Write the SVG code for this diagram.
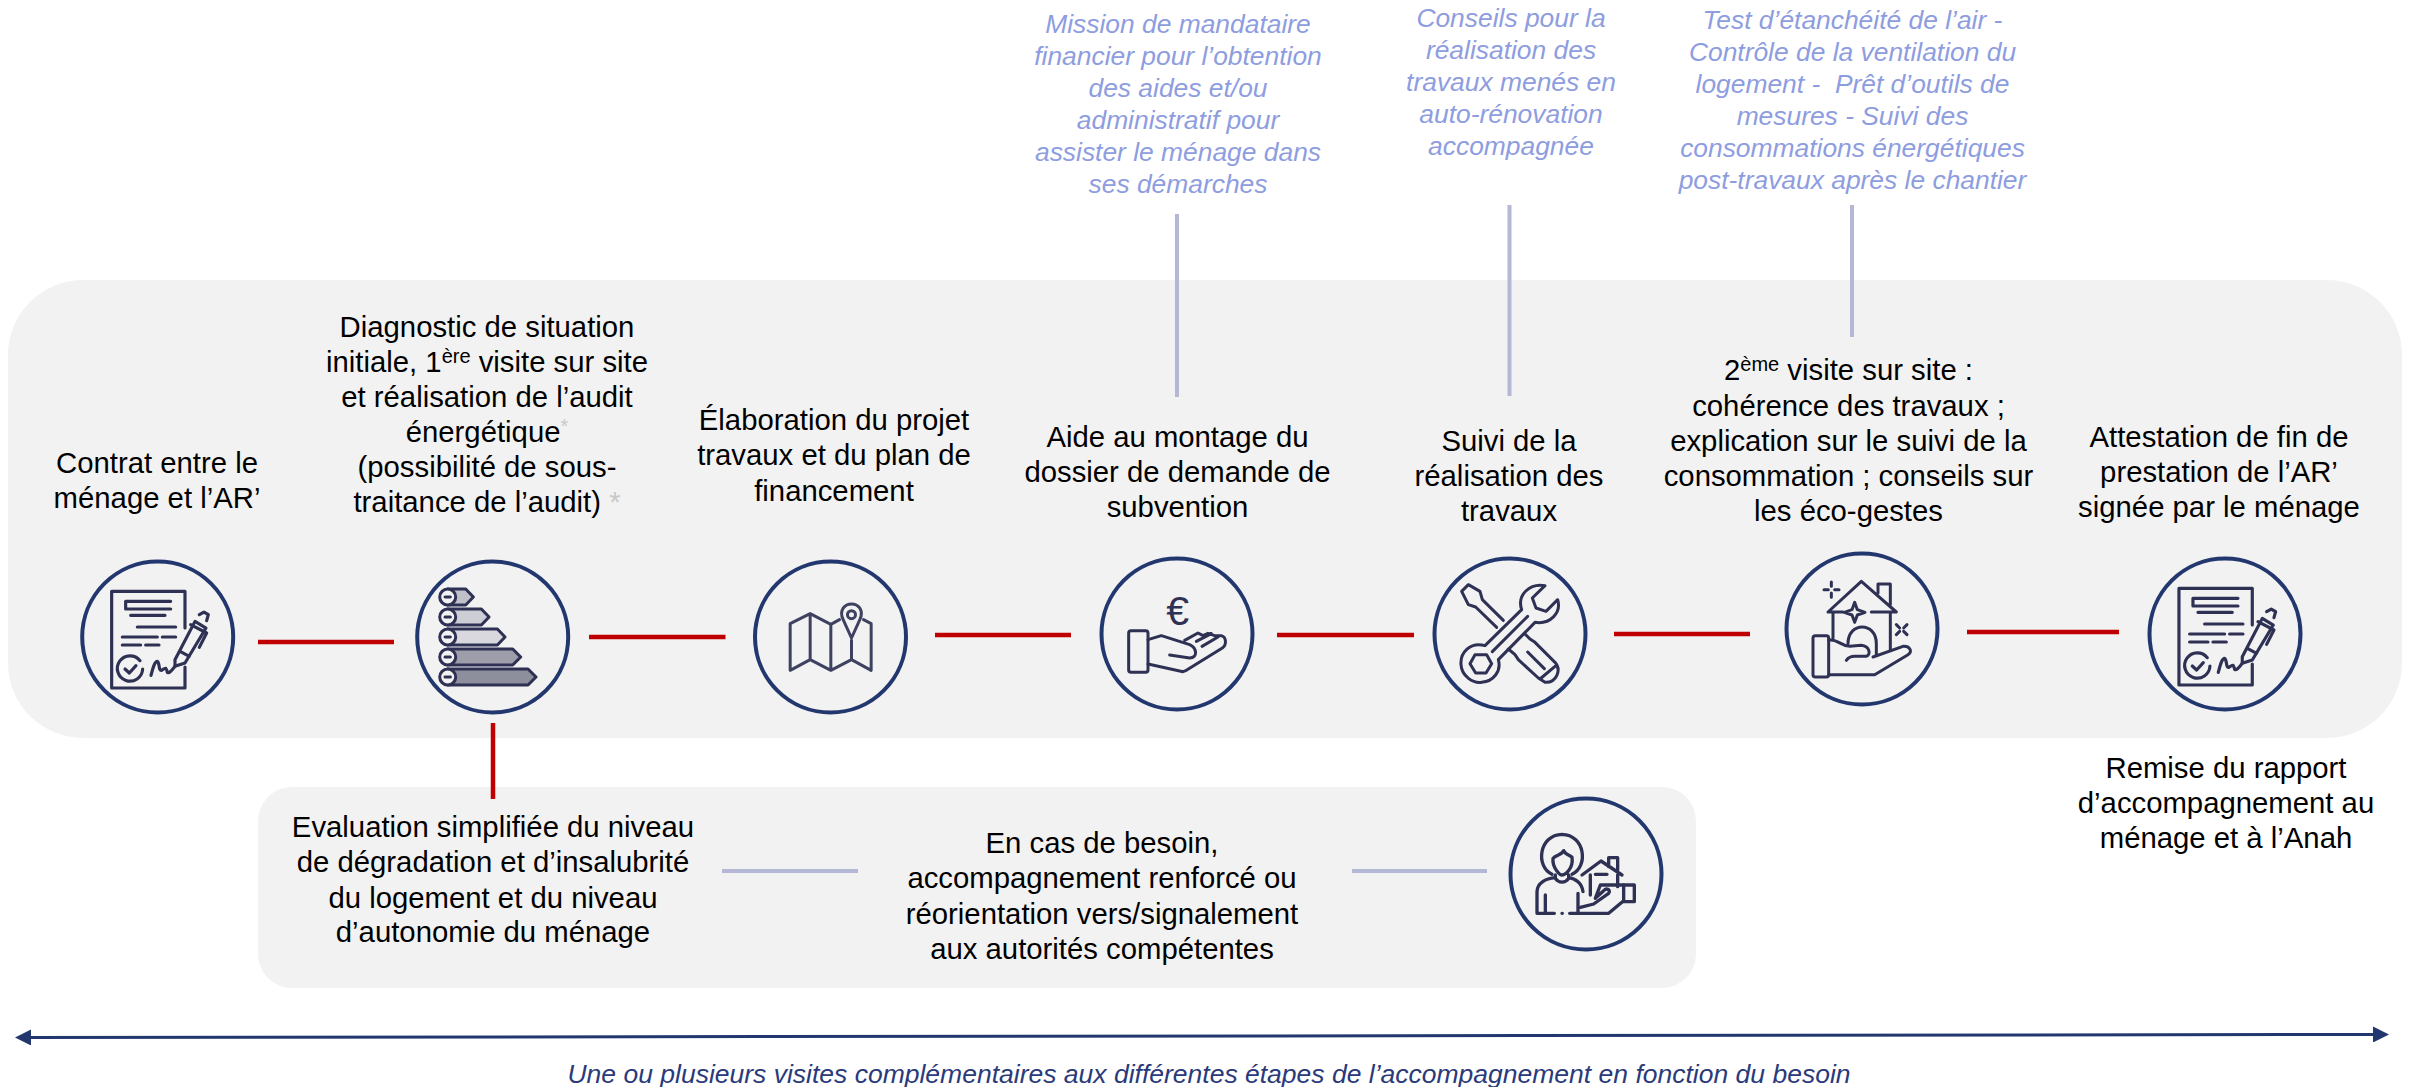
<svg xmlns="http://www.w3.org/2000/svg" xmlns:xlink="http://www.w3.org/1999/xlink" width="2412" height="1087" viewBox="0 0 2412 1087">
<style>
text{font-family:"Liberation Sans",Arial,sans-serif;text-anchor:middle}
.t{font-size:29.3px;fill:#000}
.b{font-size:26.4px;font-style:italic;fill:#8e9de0}
.n{font-size:26.5px;font-style:italic;fill:#2a3a7a}
.ast{fill:#c9c9c9}
.panel{fill:#f2f2f2}
.ring{fill:none;stroke:#23376f;stroke-width:4}
.ic{fill:none;stroke:#2e3153;stroke-width:3;stroke-linecap:round;stroke-linejoin:round}
.red{stroke:#c00000;stroke-width:4.5;fill:none}
.lav{stroke:#b4b8d4;stroke-width:4;fill:none}
.nav{stroke:#23376f;stroke-width:3;fill:none;marker-start:url(#ah);marker-end:url(#ah)}
</style>
<defs>
<marker id="ah" viewBox="0 0 16 16" refX="9" refY="8" markerWidth="16" markerHeight="16" markerUnits="userSpaceOnUse" orient="auto-start-reverse"><path d="M0 0L16 8L0 16Z" fill="#23376f"/></marker>
<g id="doc" class="ic" transform="translate(-97.7,-87.3) scale(.3333)" style="stroke-width:9.5">
<path d="M375 235V125H155V415H375V352"/>
<path d="M197 155H332M197 178H332M197 155V178M212 197H315M232 232H347M187 262H292M307 262H347M187 286H242M257 286H297"/>
<path d="M240 333A38 38 0 1 0 248 358M195 358L208 370L228 348M273 377C280 350 285 335 292 335C300 340 295 365 305 362C315 355 318 350 322 368C328 372 335 362 345 350"/>
<path d="M345 330L405 215L438 235L375 340L345 350ZM360 305L388 320M392 225L440 250L418 293M418 195L432 187L445 195L440 213"/>
</g>
</defs>

<rect class="panel" x="8" y="280" width="2394" height="458" rx="75" ry="75"/>
<rect class="panel" x="258" y="787" width="1438" height="201" rx="34" ry="34"/>

<g id="connectors">
<path class="red" d="M258 642H394"/>
<path class="red" d="M589 637H725.5"/>
<path class="red" d="M935 635H1071"/>
<path class="red" d="M1277 635H1414"/>
<path class="red" d="M1614 634H1750"/>
<path class="red" d="M1967 632H2119"/>
<path class="red" d="M493 723V799"/>
<path class="lav" d="M1177 214V397"/>
<path class="lav" d="M1509.5 205V396"/>
<path class="lav" d="M1852 205V337"/>
<path class="lav" d="M722 871H858"/>
<path class="lav" d="M1352 871H1487"/>
<path class="nav" d="M22 1037.5L2382 1034.5"/>
</g>

<g id="node-contrat">
<text class="t"><tspan x="157" y="473">Contrat entre le</tspan><tspan x="157" y="508">ménage et l’AR’</tspan></text>
<circle class="ring" cx="157.7" cy="637" r="75.5"/>
<use href="#doc" x="157.7" y="637"/>
</g>

<g id="node-diagnostic">
<text class="t"><tspan x="487" y="337">Diagnostic de situation</tspan><tspan x="487" y="372">initiale, 1<tspan font-size="20" dy="-9">ère</tspan><tspan dy="9"> visite sur site</tspan></tspan><tspan x="487" y="407">et réalisation de l’audit</tspan><tspan x="487" y="442">énergétique<tspan class="ast" font-size="20" dy="-9">*</tspan></tspan><tspan x="487" y="477">(possibilité de sous-</tspan><tspan x="487" y="512">traitance de l’audit) <tspan class="ast">*</tspan></tspan></text>
<circle class="ring" cx="492.7" cy="637" r="75.5"/>
<g transform="translate(492.7,637) scale(.3333) translate(-1298,-262)" class="ic" style="stroke-width:9">
<path d="M1163 118H1217L1240 142L1217 166H1163Z" fill="#c0c0c8"/>
<path d="M1163 178H1264L1287 202L1264 226H1163Z" fill="#cccdd5"/>
<path d="M1163 238H1312L1335 262L1312 286H1163Z" fill="#d8d8de"/>
<path d="M1163 298H1358L1382 322L1358 346H1163Z" fill="#9d9eaa"/>
<path d="M1163 358H1404L1428 382L1404 406H1163Z" fill="#8d8f9d"/>
<g fill="#f2f2f2"><circle cx="1163" cy="142" r="24"/><circle cx="1163" cy="202" r="24"/><circle cx="1163" cy="262" r="24"/><circle cx="1163" cy="322" r="24"/><circle cx="1163" cy="382" r="24"/></g>
<path d="M1155 142H1171M1155 202H1171M1155 262H1171M1155 322H1171M1155 382H1171"/>
</g>
</g>

<g id="node-projet">
<text class="t"><tspan x="834" y="430">Élaboration du projet</tspan><tspan x="834" y="465">travaux et du plan de</tspan><tspan x="834" y="501">financement</tspan></text>
<circle class="ring" cx="830.5" cy="637" r="75.5"/>
<g transform="translate(830.5,637) scale(.3333) translate(-271,-262)" class="ic" style="stroke-width:9;stroke:#3e4160">
<path d="M298 210L272 224L210 192L150 222V362L210 330L272 362L334 330L393 362V222L370 210M210 192V330M272 224V362M334 272V330"/>
<path d="M334 265L309 210C295 180 315 163 334 163C353 163 373 180 359 210Z"/><circle cx="334" cy="195" r="12"/>
</g>
</g>

<g id="node-aide">
<text class="t"><tspan x="1177.5" y="447">Aide au montage du</tspan><tspan x="1177.5" y="482">dossier de demande de</tspan><tspan x="1177.5" y="517">subvention</tspan></text>
<circle class="ring" cx="1177" cy="634" r="75.5"/>
<text x="1177.7" y="625" font-size="41" fill="#2e3153">€</text>
<g transform="translate(1177,634) scale(.3333) translate(-292,-253)" class="ic" style="stroke-width:9">
<rect x="147" y="243" width="58" height="125" rx="7"/>
<path d="M205 270L245 258L330 285C352 295 355 325 330 325L270 316"/>
<path d="M315 272L355 250L370 258L385 251L405 258H425C440 262 442 285 428 295L320 362L310 366L205 343M350 275L395 252M367 290L415 262"/>
</g>
</g>

<g id="node-suivi">
<text class="t"><tspan x="1509" y="451">Suivi de la</tspan><tspan x="1509" y="486">réalisation des</tspan><tspan x="1509" y="521">travaux</tspan></text>
<circle class="ring" cx="1510" cy="634" r="75.5"/>
<g transform="translate(1510,634) scale(.3333) translate(-1290,-253)" class="ic" style="stroke-width:9">
<path d="M1270 212L1207 150L1200 125L1165 105L1145 125L1165 165L1187 172L1250 233"/>
<path d="M1335 253L1350 268L1365 278L1425 338C1445 360 1430 400 1395 398L1375 385L1315 330L1305 315L1285 298M1343 307L1393 357M1380 388L1425 350"/>
<path d="M1395 108C1350 100 1310 135 1325 180L1215 288C1170 275 1140 310 1143 345C1145 380 1180 402 1205 398C1240 395 1265 365 1255 330L1365 218C1410 225 1445 190 1433 150L1398 185L1368 175L1357 145Z"/>
<path d="M1185 315H1220L1235 342L1218 370H1187L1170 342ZM1237 306L1343 200"/>
</g>
</g>

<g id="node-visite">
<text class="t"><tspan x="1848.5" y="380">2<tspan font-size="20" dy="-9">ème</tspan><tspan dy="9"> visite sur site :</tspan></tspan><tspan x="1848.5" y="416">cohérence des travaux ;</tspan><tspan x="1848.5" y="451">explication sur le suivi de la</tspan><tspan x="1848.5" y="486">consommation ; conseils sur</tspan><tspan x="1848.5" y="521">les éco-gestes</tspan></text>
<circle class="ring" cx="1862" cy="629" r="75.5"/>
<g transform="translate(1862,629) scale(.3333) translate(-307,-268)" class="ic" style="stroke-width:9">
<path d="M250 217H205L305 125L410 217H335M355 160V133H392V195M220 220V295M392 220V330"/>
<path d="M285 188L293 210L316 218L293 226L285 248L277 226L254 218L277 210Z"/>
<path d="M215 127V140M215 160V173M193 150H206M225 150H238M410 255L420 265M442 255L432 265M410 285L420 275M442 285L432 275"/>
<path d="M265 312C265 245 350 245 350 312V345"/>
<rect x="160" y="288" width="47" height="124" rx="7"/>
<path d="M207 300C240 300 245 320 270 320L305 317C330 320 335 345 320 350H285C270 350 265 355 260 362M340 352L430 320C450 318 460 335 445 345L345 405H207"/>
</g>
</g>

<g id="node-attestation">
<text class="t"><tspan x="2219" y="447">Attestation de fin de</tspan><tspan x="2219" y="482">prestation de l’AR’</tspan><tspan x="2219" y="517">signée par le ménage</tspan></text>
<circle class="ring" cx="2225" cy="634" r="75.5"/>
<use href="#doc" x="2225" y="634"/>
</g>

<g id="node-remise">
<text class="t"><tspan x="2226" y="778">Remise du rapport</tspan><tspan x="2226" y="813">d’accompagnement au</tspan><tspan x="2226" y="848">ménage et à l’Anah</tspan></text>
</g>

<g id="node-evaluation">
<text class="t"><tspan x="493" y="837">Evaluation simplifiée du niveau</tspan><tspan x="493" y="872">de dégradation et d’insalubrité</tspan><tspan x="493" y="908">du logement et du niveau</tspan><tspan x="493" y="942">d’autonomie du ménage</tspan></text>
</g>

<g id="node-besoin">
<text class="t"><tspan x="1102" y="853">En cas de besoin,</tspan><tspan x="1102" y="888">accompagnement renforcé ou</tspan><tspan x="1102" y="924">réorientation vers/signalement</tspan><tspan x="1102" y="959">aux autorités compétentes</tspan></text>
<circle class="ring" cx="1586" cy="874" r="75.5"/>
<g transform="translate(1586,874) scale(.3333) translate(-317,-282)" class="ic" style="stroke-width:10">
<path d="M215 283C165 260 175 165 245 163C315 165 325 260 275 283"/>
<path d="M218 235C225 225 245 225 250 212C255 225 270 225 275 232C280 265 255 285 245 285C240 285 215 265 218 235ZM225 285V295C235 310 255 310 265 295V285"/>
<path d="M222 400H170V335C170 310 195 295 225 293M265 293C285 295 305 310 308 335M195 345V400M293 340V395M245 400H246M268 400H385L430 362"/>
<path d="M305 285L362 243L425 285M385 260V233H412V270M330 285V345M412 285V320M345 283H380"/>
<rect x="430" y="315" width="32" height="50"/>
<path d="M300 382L340 372L385 340C392 330 380 322 370 332L345 355L360 315H430"/>
</g>
</g>

<g id="note-mandataire">
<text class="b"><tspan x="1178" y="33">Mission de mandataire</tspan><tspan x="1178" y="65">financier pour l’obtention</tspan><tspan x="1178" y="97">des aides et/ou</tspan><tspan x="1178" y="129">administratif pour</tspan><tspan x="1178" y="161">assister le ménage dans</tspan><tspan x="1178" y="193">ses démarches</tspan></text>
</g>
<g id="note-conseils">
<text class="b"><tspan x="1511" y="27">Conseils pour la</tspan><tspan x="1511" y="59">réalisation des</tspan><tspan x="1511" y="91">travaux menés en</tspan><tspan x="1511" y="123">auto-rénovation</tspan><tspan x="1511" y="155">accompagnée</tspan></text>
</g>
<g id="note-test">
<text class="b"><tspan x="1852.5" y="29">Test d’étanchéité de l’air -</tspan><tspan x="1852.5" y="61">Contrôle de la ventilation du</tspan><tspan x="1852.5" y="93">logement - &#160;Prêt d’outils de</tspan><tspan x="1852.5" y="125">mesures - Suivi des</tspan><tspan x="1852.5" y="157">consommations énergétiques</tspan><tspan x="1852.5" y="189">post-travaux après le chantier</tspan></text>
</g>
<g id="note-visites">
<text class="n" x="1209" y="1083">Une ou plusieurs visites complémentaires aux différentes étapes de l’accompagnement en fonction du besoin</text>
</g>
</svg>
